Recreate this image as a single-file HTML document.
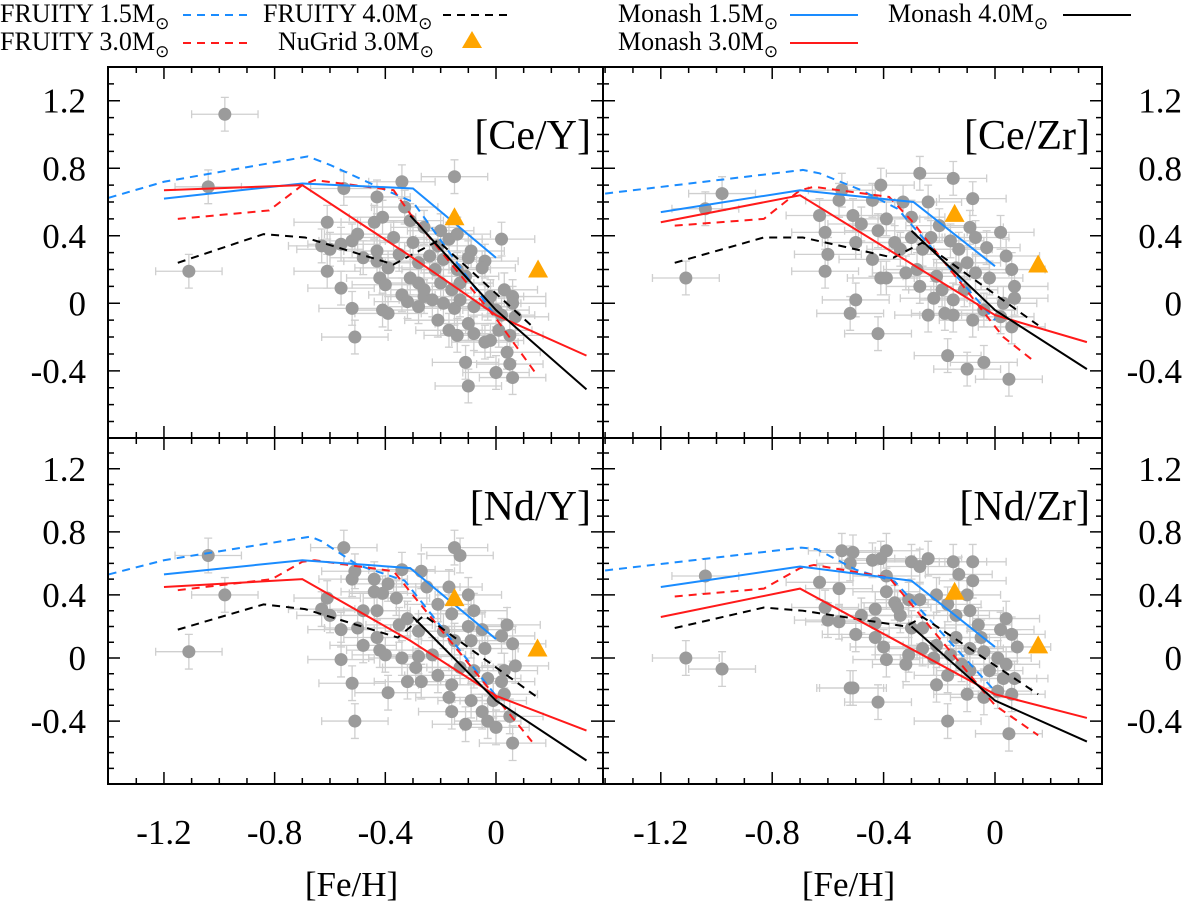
<!DOCTYPE html>
<html><head><meta charset="utf-8"><style>
html,body{margin:0;padding:0;background:#fff;}
svg{display:block;}
svg text{font-family:"Liberation Serif",serif;}
</style></head><body>
<svg id="fig" width="1200" height="907" viewBox="0 0 1200 907">
<g id="legend"></g>
<g id="panels"></g>
<g id="labels"></g>
</svg>
<script>
// ---------- data ----------
const panelNames = ["[Ce/Y]","[Ce/Zr]","[Nd/Y]","[Nd/Zr]"];
const xTicks = [-1.2,-0.8,-0.4,0];
const xTickLabels = ["-1.2","-0.8","-0.4","0"];
const yTicks = [1.2,0.8,0.4,0,-0.4];
const yTickLabels = ["1.2","0.8","0.4","0","-0.4"];

const fruity15 = [
 [[-1.4,0.625],[-1.2,0.72],[-0.68,0.87],[-0.6,0.82],[-0.44,0.70],[-0.3,0.6],[0,-0.08]],
 [[-1.4,0.65],[-0.69,0.79],[-0.63,0.77],[-0.48,0.67],[-0.35,0.56],[0,-0.10]],
 [[-1.4,0.53],[-1.2,0.62],[-0.67,0.77],[-0.63,0.74],[-0.5,0.59],[-0.33,0.49],[0,-0.24]],
 [[-1.4,0.555],[-0.695,0.70],[-0.64,0.69],[-0.5,0.56],[-0.36,0.485],[0,-0.21]]];
const fruity30 = [
 [[-1.15,0.50],[-0.82,0.55],[-0.70,0.70],[-0.655,0.73],[-0.37,0.67],[-0.31,0.53],[0,-0.09],[0.146,-0.42]],
 [[-1.15,0.46],[-0.83,0.50],[-0.70,0.67],[-0.65,0.69],[-0.38,0.63],[-0.3,0.49],[0.03,-0.20],[0.13,-0.33]],
 [[-1.15,0.43],[-0.81,0.50],[-0.70,0.61],[-0.655,0.62],[-0.37,0.55],[0,-0.25],[0.13,-0.53]],
 [[-1.15,0.39],[-0.83,0.44],[-0.70,0.57],[-0.65,0.59],[-0.38,0.51],[0,-0.30],[0.155,-0.49]]];
const fruity40 = [
 [[-1.15,0.24],[-0.84,0.41],[-0.69,0.39],[-0.37,0.23],[-0.21,0.37],[0.14,-0.15]],
 [[-1.15,0.24],[-0.83,0.39],[-0.69,0.39],[-0.365,0.27],[-0.26,0.36],[0.155,-0.13]],
 [[-1.15,0.18],[-0.84,0.34],[-0.69,0.31],[-0.355,0.13],[-0.26,0.27],[0.15,-0.25]],
 [[-1.15,0.19],[-0.83,0.32],[-0.69,0.30],[-0.32,0.20],[-0.26,0.26],[0.155,-0.23]]];
const monash15 = [
 [[-1.2,0.62],[-0.70,0.71],[-0.3,0.68],[0,0.27]],
 [[-1.2,0.54],[-0.70,0.67],[-0.293,0.60],[0,0.22]],
 [[-1.2,0.53],[-0.70,0.62],[-0.31,0.57],[0,0.12]],
 [[-1.2,0.45],[-0.70,0.58],[-0.30,0.49],[0,0.07]]];
const monash30 = [
 [[-1.2,0.67],[-0.70,0.70],[-0.31,0.28],[0,-0.07],[0.327,-0.31]],
 [[-1.2,0.48],[-0.70,0.64],[0,-0.07],[0.33,-0.23]],
 [[-1.2,0.45],[-0.70,0.50],[-0.31,0.11],[0,-0.24],[0.327,-0.46]],
 [[-1.2,0.26],[-0.70,0.44],[0,-0.23],[0.33,-0.38]]];
const monash40 = [
 [[-0.31,0.52],[0,-0.04],[0.327,-0.51]],
 [[-0.3,0.43],[0,-0.04],[0.33,-0.39]],
 [[-0.30,0.26],[0,-0.27],[0.327,-0.65]],
 [[-0.30,0.20],[0,-0.27],[0.33,-0.53]]];
const nugrid30 = [
 [[-0.15,0.51],[0.152,0.20]],
 [[-0.145,0.53],[0.155,0.23]],
 [[-0.15,0.38],[0.15,0.06]],
 [[-0.145,0.42],[0.155,0.08]]];

const starsCeY = [[-0.98,1.12],[-1.04,0.69],[-1.11,0.19],[-0.51,-0.20],[-0.61,0.48],[-0.61,0.19],[-0.56,0.09],[-0.52,-0.03],[-0.63,0.34],[-0.60,0.32],[-0.56,0.35],[-0.55,0.68],[-0.43,0.63],[-0.34,0.72],[-0.15,0.75],[0.02,0.38],[-0.10,-0.49],[-0.11,-0.35],[0.0,-0.41],[0.06,-0.44],[0.05,-0.36],[0.04,-0.29],[-0.41,-0.04],[-0.39,-0.06],[-0.42,0.15],[-0.40,0.11],[-0.44,0.48],[-0.41,0.51],[-0.52,0.37],[-0.50,0.41],[-0.48,0.27],[-0.43,0.31],[-0.43,0.25],[-0.39,0.21],[-0.37,0.39],[-0.35,0.29],[-0.33,0.57],[-0.31,0.49],[-0.30,0.36],[-0.31,0.15],[-0.34,0.05],[-0.32,0.01],[-0.28,-0.02],[-0.26,0.04],[-0.21,-0.10],[-0.19,0.0],[-0.15,-0.03],[-0.17,-0.16],[-0.14,-0.19],[-0.10,-0.12],[-0.08,-0.18],[-0.04,-0.23],[-0.02,-0.22],[0.01,-0.16],[0.05,-0.19],[0.03,0.08],[0.06,0.04],[0.06,0.0],[0.07,-0.08],[-0.09,0.31],[-0.10,0.27],[-0.04,0.25],[-0.05,0.21],[-0.11,0.16],[-0.14,0.20],[-0.20,0.43],[-0.17,0.38],[-0.14,0.41],[-0.26,0.45],[-0.24,0.28],[-0.22,0.20],[-0.20,0.12],[-0.16,0.08],[-0.13,0.02],[-0.28,0.12],[-0.26,0.08],[-0.23,0.02],[-0.03,0.0],[0.0,-0.04],[-0.08,-0.02],[-0.21,0.34],[-0.28,0.24],[-0.19,0.26],[-0.13,0.12],[0.02,-0.07],[-0.02,0.04]];
const starsCeZr = [[-0.98,0.65],[-1.04,0.56],[-1.11,0.15],[-0.42,-0.18],[-0.52,-0.06],[-0.50,0.02],[-0.61,0.19],[-0.60,0.29],[-0.61,0.42],[-0.63,0.52],[-0.56,0.61],[-0.55,0.67],[-0.51,0.52],[-0.48,0.47],[-0.50,0.36],[-0.44,0.61],[-0.41,0.70],[-0.44,0.26],[-0.41,0.15],[-0.39,0.15],[-0.42,0.43],[-0.39,0.50],[-0.36,0.36],[-0.34,0.32],[-0.33,0.60],[-0.30,0.51],[-0.27,0.77],[-0.24,0.60],[-0.15,0.74],[-0.08,0.62],[0.02,0.42],[-0.32,0.18],[-0.28,0.20],[-0.26,0.32],[-0.23,0.39],[-0.20,0.46],[-0.16,0.37],[-0.13,0.32],[-0.09,0.45],[-0.07,0.39],[-0.03,0.33],[-0.10,0.24],[-0.14,0.21],[-0.07,0.18],[-0.02,0.15],[0.04,0.28],[0.06,0.20],[0.07,0.10],[0.07,0.03],[0.03,0.0],[0.02,-0.08],[0.06,-0.14],[-0.08,-0.10],[-0.15,-0.07],[-0.18,-0.06],[-0.24,-0.07],[-0.22,0.03],[-0.27,0.10],[-0.19,0.08],[-0.15,0.02],[-0.11,0.08],[-0.17,-0.31],[-0.10,-0.39],[-0.04,-0.35],[0.05,-0.45],[-0.04,-0.04],[-0.21,0.16],[-0.30,0.39]];
const starsNdY = [[-1.04,0.65],[-0.98,0.40],[-1.11,0.04],[-0.51,-0.40],[-0.52,-0.16],[-0.56,-0.01],[-0.55,0.70],[-0.15,0.70],[-0.13,0.65],[-0.61,0.38],[-0.63,0.31],[-0.60,0.27],[-0.56,0.18],[-0.52,0.50],[-0.51,0.55],[-0.44,0.50],[-0.43,0.30],[-0.48,0.30],[-0.50,0.19],[-0.48,0.08],[-0.43,0.13],[-0.42,0.05],[-0.40,0.02],[-0.39,-0.22],[-0.34,0.0],[-0.44,0.42],[-0.41,0.41],[-0.39,0.47],[-0.36,0.38],[-0.34,0.56],[-0.27,0.55],[-0.25,0.45],[-0.17,0.45],[-0.10,0.40],[-0.08,0.30],[-0.05,0.18],[0.02,0.14],[0.04,0.21],[0.06,0.09],[-0.32,0.25],[-0.28,0.17],[-0.28,0.01],[-0.35,0.21],[-0.21,0.34],[-0.16,0.28],[-0.19,0.17],[-0.15,0.11],[-0.10,0.20],[-0.09,0.11],[-0.04,0.06],[-0.23,0.02],[-0.29,-0.06],[-0.32,-0.15],[-0.27,-0.15],[-0.21,-0.11],[-0.16,-0.17],[-0.17,-0.25],[-0.16,-0.34],[-0.11,-0.42],[-0.09,-0.27],[-0.05,-0.34],[-0.03,-0.40],[0.0,-0.44],[0.06,-0.54],[0.03,-0.23],[0.05,-0.37],[0.03,-0.08],[0.07,-0.05],[0.02,-0.15],[-0.03,-0.13],[-0.08,-0.08],[-0.13,-0.06],[-0.01,-0.27]];
const starsNdZr = [[-1.04,0.52],[-1.11,0.0],[-0.98,-0.07],[-0.52,-0.19],[-0.51,-0.19],[-0.42,-0.28],[-0.63,0.48],[-0.56,0.44],[-0.55,0.68],[-0.51,0.67],[-0.52,0.60],[-0.44,0.62],[-0.41,0.63],[-0.39,0.68],[-0.30,0.61],[-0.27,0.58],[-0.24,0.63],[-0.15,0.61],[-0.08,0.61],[-0.13,0.53],[-0.08,0.49],[-0.39,0.42],[-0.39,0.52],[-0.61,0.32],[-0.60,0.24],[-0.56,0.23],[-0.48,0.27],[-0.50,0.15],[-0.43,0.31],[-0.43,0.13],[-0.43,0.22],[-0.40,0.07],[-0.39,-0.01],[-0.36,0.35],[-0.34,0.27],[-0.35,0.32],[-0.32,-0.04],[-0.31,0.02],[-0.31,0.37],[-0.27,0.37],[-0.30,0.19],[-0.26,0.19],[-0.21,0.40],[-0.17,0.34],[-0.14,0.27],[-0.10,0.40],[-0.09,0.30],[-0.06,0.21],[0.04,0.25],[0.02,0.18],[0.06,0.15],[0.08,0.07],[-0.21,-0.17],[-0.17,-0.40],[0.05,-0.48],[-0.10,-0.23],[-0.04,-0.25],[0.01,-0.21],[0.06,-0.23],[-0.02,-0.08],[0.03,-0.13],[-0.21,0.08],[-0.16,0.02],[-0.12,-0.04],[-0.09,-0.08],[-0.26,0.06],[-0.22,0.0],[-0.17,-0.11],[-0.04,0.04],[0.01,0.0],[0.04,-0.04],[0.07,-0.13],[-0.14,0.13],[-0.09,0.06],[-0.05,0.13]];
const starsAll = [starsCeY, starsCeZr, starsNdY, starsNdZr];
const xErr = 0.12, yErrTop = 0.10, yErrBot = 0.11;

// ---------- geometry ----------
const NS = "http://www.w3.org/2000/svg";
function mk(tag, attrs, parent){ const e=document.createElementNS(NS,tag); for(const k in attrs) e.setAttribute(k,attrs[k]); if(parent) parent.appendChild(e); return e; }
const SERIF = '"Liberation Serif", serif';
const panels = [
 {x0:108,x1:603,y0:67,y1:438, zx:496, sx:276.7, zy:303.3, sy:168.8, right:false, top:true},
 {x0:603,x1:1102,y0:67,y1:438, zx:995, sx:278.5, zy:303.3, sy:168.8, right:true, top:true},
 {x0:108,x1:603,y0:438,y1:784, zx:496, sx:276.7, zy:658, sy:157.7, right:false, top:false},
 {x0:603,x1:1102,y0:438,y1:784, zx:995, sx:278.5, zy:658, sy:157.7, right:true, top:false}];
const root = document.getElementById('panels');
const defs = mk('defs',{},document.getElementById('fig'));

panels.forEach((p,i)=>{
  const X = v => p.zx + v*p.sx;
  const Y = v => p.zy - v*p.sy;
  const cp = mk('clipPath',{id:'clip'+i},defs);
  mk('rect',{x:p.x0,y:p.y0,width:p.x1-p.x0,height:p.y1-p.y0},cp);
  const g = mk('g',{'clip-path':'url(#clip'+i+')'},root);
  
  
  const ey = p.top ? yErrTop : yErrBot;
  const eg = mk('g',{stroke:'#cfcfcf','stroke-width':1.3,fill:'none'},g);
  
  
  starsAll[i].forEach(s=>{
    const cx=X(s[0]), cy=Y(s[1]);
    const xl=X(s[0]-xErr), xr=X(s[0]+xErr), yt=Y(s[1]+ey), yb=Y(s[1]-ey);
    mk('path',{d:`M${xl},${cy}H${xr}M${xl},${cy-4}V${cy+4}M${xr},${cy-4}V${cy+4}M${cx},${yt}V${yb}M${cx-4},${yt}H${cx+4}M${cx-4},${yb}H${cx+4}`},eg);
  });
  const dg = mk('g',{fill:'#9b9b9b'},g);
  
  
  starsAll[i].forEach(s=>{
    const c = mk('circle',{cx:X(s[0]),cy:Y(s[1]),r:6.5},dg);
    
    
  });
  const line = (arr, color, dash, name)=>{
    const l = mk('polyline',{points:arr.map(q=>X(q[0])+','+Y(q[1])).join(' '),fill:'none',stroke:color,'stroke-width':2,'stroke-dasharray':dash||'none'},g);
    
    
  };
  line(fruity15[i],'#1a8cff','8,6','fruity-1.5-line');
  line(fruity30[i],'#ff1a1a','8,6','fruity-3.0-line');
  line(fruity40[i],'#000','8,6','fruity-4.0-line');
  line(monash15[i],'#1a8cff',null,'monash-1.5-line');
  line(monash30[i],'#ff1a1a',null,'monash-3.0-line');
  line(monash40[i],'#000',null,'monash-4.0-line');
  nugrid30[i].forEach(q=>{
    const cx=X(q[0]), cy=Y(q[1]);
    const t = mk('polygon',{points:`${cx},${cy-10} ${cx+10},${cy+8} ${cx-10},${cy+8}`,fill:'#ffa500'},g);
    
    
  });
  const fg = mk('g',{stroke:'#000','stroke-width':1.5,fill:'none'},root);
  
  
  mk('rect',{x:p.x0,y:p.y0,width:p.x1-p.x0,height:p.y1-p.y0,'stroke-width':2},fg);
  for(let k=-14;k<=4;k++){
    const v=k/10, px=X(v); if(px<=p.x0+1||px>=p.x1-1) continue;
    const L = (k%4===0)?12:6;
    mk('path',{d:`M${px},${p.y1}V${p.y1-L}M${px},${p.y0}V${p.y0+L}`},fg);
  }
  for(let k=-8;k<=14;k++){
    const v=k/10, py=Y(v); if(py<=p.y0+1||py>=p.y1-1) continue;
    const L = (k%4===0)?12:6;
    mk('path',{d:`M${p.x0},${py}H${p.x0+L}M${p.x1},${py}H${p.x1-L}`},fg);
  }
  const pl = mk('text',{x:p.x1-12,y:p.y0+82,'text-anchor':'end','font-size':42,'font-family':SERIF},root);
  pl.textContent = panelNames[i];
  
  
  yTicks.forEach((v,j)=>{
    const t = mk('text',{x:p.right?1182:86,y:Y(v)+12,'text-anchor':'end','font-size':35,'font-family':SERIF},root);
    t.textContent = yTickLabels[j];
    
    
  });
  if(!p.top){
    xTicks.forEach((v,j)=>{
      const t = mk('text',{x:X(v),y:844,'text-anchor':'middle','font-size':35,'font-family':SERIF},root);
      t.textContent = xTickLabels[j];
      
      
    });
    const xt = mk('text',{x:(p.x0+p.x1)/2-4,y:896,'text-anchor':'middle','font-size':35,'font-family':SERIF},root);
    xt.textContent = '[Fe/H]';
    
    
  }
});

// ---------- legend ----------
const lg = document.getElementById('legend');
const legendEntries = [
 {t:'FRUITY 1.5M', x:0, y:22, lx:183, c:'#1a8cff', d:'8,6'},
 {t:'FRUITY 4.0M', x:263, y:22, lx:443, c:'#000', d:'8,6'},
 {t:'Monash 1.5M', x:618, y:22, lx:790, c:'#1a8cff', d:null},
 {t:'Monash 4.0M', x:888, y:22, lx:1063, c:'#000', d:null},
 {t:'FRUITY 3.0M', x:0, y:50, lx:183, c:'#ff1a1a', d:'8,6'},
 {t:'NuGrid 3.0M', x:278, y:50, lx:null, c:'#ffa500', d:null},
 {t:'Monash 3.0M', x:618, y:50, lx:790, c:'#ff1a1a', d:null}];
legendEntries.forEach(e=>{
  const t = mk('text',{x:e.x,y:e.y,'font-size':26,'font-family':SERIF},lg);
  t.textContent = e.t;
  const s = mk('tspan',{'font-size':17,dy:7},t);
  s.textContent = '\u2299';
  
  
  if(e.lx!==null){
    const l = mk('line',{x1:e.lx,x2:e.lx+68,y1:e.y-7,y2:e.y-7,stroke:e.c,'stroke-width':2,'stroke-dasharray':e.d||'none'},lg);
    
    
  } else {
    const tr = mk('polygon',{points:`472,${e.y-19} 482,${e.y-2} 462,${e.y-2}`,fill:'#ffa500'},lg);
    
    
  }
});
</script>
</body></html>
